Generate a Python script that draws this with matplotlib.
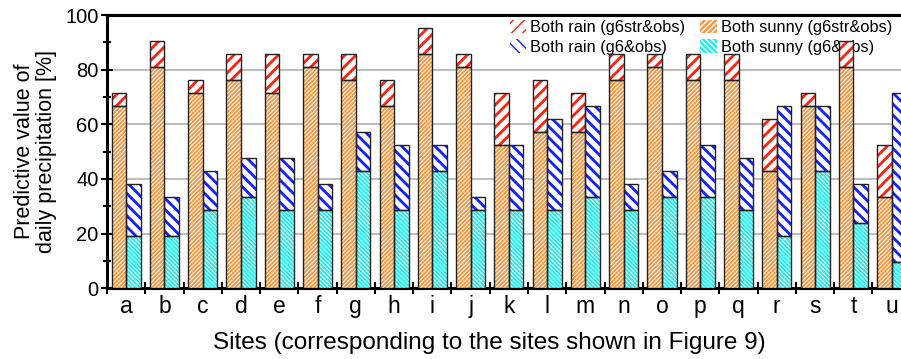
import numpy as np
import matplotlib
matplotlib.use("Agg")
import matplotlib.pyplot as plt
from matplotlib.patches import Patch

plt.rcParams['font.family'] = ['Liberation Sans', 'DejaVu Sans']

sites = list("abcdefghijklmnopqrstu")
# predictive values [%] (k/21)
sunny_str = [66.7, 81.0, 71.4, 76.2, 71.4, 81.0, 76.2, 66.7, 85.7, 81.0, 52.4,
             57.1, 57.1, 76.2, 81.0, 76.2, 76.2, 42.9, 66.7, 81.0, 33.3]
total_str = [71.4, 90.5, 76.2, 85.7, 85.7, 85.7, 85.7, 76.2, 95.2, 85.7, 71.4,
             76.2, 71.4, 85.7, 85.7, 85.7, 85.7, 61.9, 71.4, 90.5, 52.4]
sunny_g6 = [19.0, 19.0, 28.6, 33.3, 28.6, 28.6, 42.9, 28.6, 42.9, 28.6, 28.6,
            28.6, 33.3, 28.6, 33.3, 33.3, 28.6, 19.0, 42.9, 23.8, 9.5]
total_g6 = [38.1, 33.3, 42.9, 47.6, 47.6, 38.1, 57.1, 52.4, 52.4, 33.3, 52.4,
            61.9, 66.7, 38.1, 42.9, 52.4, 47.6, 66.7, 66.7, 38.1, 71.4]

rain_str = np.array(total_str) - np.array(sunny_str)
rain_g6 = np.array(total_g6) - np.array(sunny_g6)

c_orange = '#f79a48'
c_cyan = '#22eeea'
c_red = '#ff2010'
c_blue = '#1020ff'

fig = plt.figure(figsize=(9.01, 3.59), dpi=100)
ax = fig.add_axes([0.1188, 0.197, 0.892, 0.761])

x = np.arange(len(sites))
w = 0.38
xo = x - w / 2
xc = x + w / 2


def hbar(xpos, h, bottom, face, hcol, hatch, hlw):
    with plt.rc_context({'hatch.linewidth': hlw}):
        bars = ax.bar(xpos, h, w, bottom=bottom, color=face, edgecolor=hcol,
                      hatch=hatch, linewidth=0, zorder=3)
        for b in bars:
            if hasattr(b, 'set_hatch_linewidth'):
                b.set_hatch_linewidth(hlw)
    ax.bar(xpos, h, w, bottom=bottom, fill=False, edgecolor='#222222',
           linewidth=1.0, zorder=4)


hbar(xo, sunny_str, 0, c_orange, 'white', '////////', 0.7)
hbar(xo, rain_str, sunny_str, 'white', c_red, '///', 2.0)
hbar(xc, sunny_g6, 0, c_cyan, 'white', '\\\\\\\\\\\\\\\\', 0.7)
hbar(xc, rain_g6, sunny_g6, 'white', c_blue, '\\\\\\', 2.0)

ax.set_xlim(-0.5, 20.5)
ax.set_ylim(0, 100)
ax.set_xticks(x)
ax.set_xticklabels(sites, fontsize=16.5)
ax.set_xticks(np.arange(-0.5, 21, 1), minor=True)
ax.tick_params(axis='x', which='major', length=0, pad=5)
ax.tick_params(axis='x', which='minor', direction='inout', length=8, width=1.5)
ax.set_yticks(np.arange(0, 101, 20))
ax.set_yticks(np.arange(10, 100, 20), minor=True)
ax.tick_params(axis='y', which='major', direction='inout', length=8, width=1.5,
               labelsize=14.5, pad=2)
ax.tick_params(axis='y', which='minor', direction='inout', length=6, width=1.5)
ax.yaxis.grid(True, which='major', color='#b0b0b0', linewidth=1.2, zorder=0)
ax.set_axisbelow(True)

for s in ['left', 'bottom', 'top']:
    ax.spines[s].set_linewidth(2.2)
ax.spines['right'].set_visible(False)

ax.set_ylabel('Predictive value of\ndaily precipitation [%]', fontsize=15.5,
              labelpad=6, linespacing=1.05)
ax.set_xlabel('Sites (corresponding to the sites shown in Figure 9)',
              fontsize=17.5)
ax.xaxis.set_label_coords(0.476, -0.16)

handles = [
    Patch(facecolor='white', edgecolor=c_red, hatch='///', linewidth=0),
    Patch(facecolor='white', edgecolor=c_blue, hatch='\\\\\\', linewidth=0),
    Patch(facecolor=c_orange, edgecolor='white', hatch='//////', linewidth=0),
    Patch(facecolor=c_cyan, edgecolor='white', hatch='\\\\\\\\\\\\', linewidth=0),
]
labels = ['Both rain (g6str&obs)', 'Both rain (g6&obs)',
          'Both sunny (g6str&obs)', 'Both sunny (g6&obs)']
leg = ax.legend(handles, labels, ncol=2, frameon=False, fontsize=11.8,
                loc='upper left', bbox_to_anchor=(0.566, 0.945),
                bbox_transform=fig.transFigure, handlelength=1.0,
                handleheight=0.9, handletextpad=0.25, columnspacing=0.9,
                labelspacing=0.25, borderaxespad=0, borderpad=0)
leg.set_zorder(2)

fig.savefig('out.png', dpi=100)
